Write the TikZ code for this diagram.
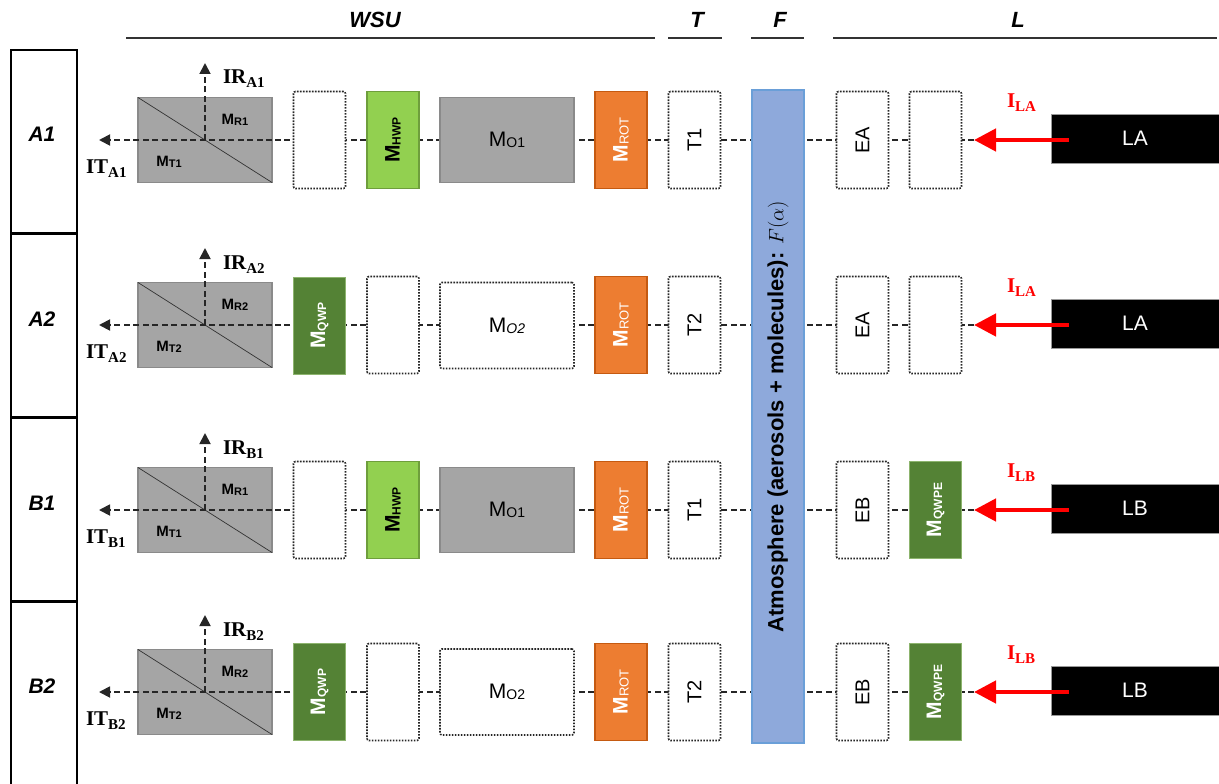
\documentclass[tikz,border=0pt]{standalone}
\usepackage{fontspec}
\setmainfont{Liberation Sans}
\newfontfamily\serifbf{Liberation Serif}
\usetikzlibrary{arrows.meta}
\pgfdeclarelayer{bg}
\pgfsetlayers{bg,main}
\definecolor{bsgray}{HTML}{A5A5A5}
\definecolor{bsedge}{HTML}{8A8A8A}
\definecolor{lgreen}{HTML}{92D050}
\definecolor{lgreenedge}{HTML}{6E9E3C}
\definecolor{dgreen}{HTML}{548235}
\definecolor{dgreenedge}{HTML}{8DB46E}
\definecolor{orng}{HTML}{ED7D31}
\definecolor{orngedge}{HTML}{C55A11}
\definecolor{atmblue}{HTML}{8EA9DB}
\definecolor{atmedge}{HTML}{6A9FD8}
\newcommand\fsz[1]{\fontsize{#1}{#1}\selectfont}
\newcommand\mlab[3][12]{#2{\fsz{#1}\raisebox{-1pt}{#3}}}
\newcommand\slab[2]{#1\raisebox{-4pt}{\fsz{15}#2}}

\newcommand\bsunit[3]{%
  \node[bsplit] (bs#1) at (205,#2) {};
  \draw[diag] (bs#1.north west) -- (bs#1.south east);
  \node[mrt] at (235,#2-20) {\mlab[11]{M}{R#3}};
  \node[mrt] at (169,#2+22) {\mlab[11]{M}{T#3}};
  \coordinate (ir#1) at (205,#2-77);
  \coordinate (it#1) at (99,#2);
  \draw[beamarr] (bs#1.center) -- (ir#1);
  \draw[beamarr] (bs#1.east) -- (it#1);
  \node[slabel, anchor=base west] at (223,#2-56) {\slab{IR}{#1}};
  \node[slabel, anchor=base west] at (86,#2+33) {\slab{IT}{#1}};
}
\newcommand\laserunit[3]{%
  \node[laser] (l#1) at (1135,#2-1.5) {L#3};
  \coordinate (s#1) at (1069,#2);
  \coordinate (p#1) at (974,#2);
  \draw[redarr] (s#1) -- (p#1);
  \node[redlab, anchor=base west] at (1007,#2-33) {\slab{I}{L#3}};
  \begin{pgfonlayer}{bg}\draw[beam] (p#1) -- (bs#1.east);\end{pgfonlayer}
}

\begin{document}
\begin{tikzpicture}[x=1pt,y=-1pt,
  every node/.style={inner sep=0pt, outer sep=0pt},
  colbox/.style={draw=black, line width=1.8pt, minimum width=66pt, minimum height=183pt},
  rowlab/.style={font=\fsz{21}\bfseries\itshape},
  head/.style={font=\fsz{22}\bfseries\itshape},
  headline/.style={line width=1.6pt, draw=black!80},
  small/.style={minimum width=52pt, minimum height=97pt},
  dotbox/.style={small, draw=black!85, line width=1.6pt, dash pattern=on 1.6pt off 1.4pt, fill=white, rounded corners=2pt},
  bigdot/.style={dotbox, minimum width=134pt, minimum height=86pt, font=\fsz{21}},
  bsplit/.style={draw=bsedge, fill=bsgray, line width=1.6pt, minimum width=134pt, minimum height=85pt},
  mobox/.style={bsplit, font=\fsz{21}},
  diag/.style={line width=0.7pt, draw=black!80},
  mrt/.style={font=\fsz{15}\bfseries},
  hwp/.style={small, fill=lgreen, draw=lgreenedge, line width=1.2pt},
  qwp/.style={small, fill=dgreen, draw=dgreenedge, line width=1pt},
  rot/.style={small, fill=orng, draw=orngedge, line width=1.2pt},
  vtext/.style={rotate=90, font=\fsz{20}},
  vbold/.style={rotate=90, font=\fsz{21}\bfseries},
  atm/.style={fill=atmblue, draw=atmedge, line width=1.2pt, minimum width=52pt, minimum height=653pt},
  laser/.style={fill=black, draw=black!40, line width=0.8pt, minimum width=168pt, minimum height=49pt, text=white, font=\fsz{21}},
  beam/.style={line width=1.8pt, dash pattern=on 6pt off 3.5pt, draw=black!85},
  beamarr/.style={beam, -{Triangle[length=11pt,width=11pt]}},
  redarr/.style={line width=4.5pt, draw=red, -{Triangle[length=22pt,width=22pt]}},
  slabel/.style={font=\fsz{21}\serifbf\bfseries},
  redlab/.style={font=\fsz{21}\serifbf\bfseries, text=red},
]
\useasboundingbox (0,0) rectangle (1219,784);

% header
\node[head] (hW) at (375,20) {WSU};
\node[head] (hT) at (697,20) {T};
\node[head] (hF) at (780,20) {F};
\node[head] (hL) at (1018,20) {L};
\draw[headline] (126,38) -- (655,38);
\draw[headline] (668,38) -- (722,38);
\draw[headline] (751,38) -- (804,38);
\draw[headline] (833,38) -- (1217,38);

% left column
\node[colbox] (cA1) at (44,141.5) {};
\node[colbox] (cA2) at (44,325.5) {};
\node[colbox] (cB1) at (44,509.5) {};
\node[colbox, minimum height=200pt] (cB2) at (44,702) {};
\node[rowlab] at (42,134) {A1};
\node[rowlab] at (42,319) {A2};
\node[rowlab] at (42,503) {B1};
\node[rowlab] at (42,686) {B2};

% atmosphere
\node[atm] (atm) at (778,416.5) {};
\node[rotate=90, font=\fsz{22}\bfseries] at (atm) {Atmosphere (aerosols + molecules): $F(\alpha)$};

% ---------- row A1
\bsunit{A1}{140}{1}
\node[dotbox] (dA1) at (319.5,140) {};
\node[hwp] (hA1) at (393,140) {};
\node[vbold] at (hA1) {\mlab{M}{HWP}};
\node[mobox] (oA1) at (507,140) {\mlab[14]{M}{O1}};
\node[rot] (rA1) at (621,140) {};
\node[vbold, text=white] at (rA1) {M{\fsz{13}\mdseries\raisebox{-1pt}{ROT}}};
\node[dotbox] (tA1) at (694.5,140) {};
\node[vtext] at (tA1) {T1};
\node[dotbox] (eA1) at (862.5,140) {};
\node[vtext] at (eA1) {EA};
\node[dotbox] (xA1) at (935.5,140) {};
\laserunit{A1}{140}{A}

% ---------- row A2
\bsunit{A2}{325}{2}
\node[qwp] (qA2) at (319.5,325.5) {};
\node[vbold, text=white] at (qA2) {\mlab{M}{QWP}};
\node[dotbox] (dA2) at (393,325) {};
\node[bigdot] (oA2) at (507,325.5) {M{\fsz{14}\itshape\raisebox{-1pt}{O2}}};
\node[rot] (rA2) at (621,325) {};
\node[vbold, text=white] at (rA2) {M{\fsz{13}\mdseries\raisebox{-1pt}{ROT}}};
\node[dotbox] (tA2) at (694.5,325) {};
\node[vtext] at (tA2) {T2};
\node[dotbox] (eA2) at (862.5,325) {};
\node[vtext] at (eA2) {EA};
\node[dotbox] (xA2) at (935.5,325) {};
\laserunit{A2}{325}{A}

% ---------- row B1
\bsunit{B1}{510}{1}
\node[dotbox] (dB1) at (319.5,510) {};
\node[hwp] (hB1) at (393,510) {};
\node[vbold] at (hB1) {\mlab{M}{HWP}};
\node[mobox] (oB1) at (507,510) {\mlab[14]{M}{O1}};
\node[rot] (rB1) at (621,510) {};
\node[vbold, text=white] at (rB1) {M{\fsz{13}\mdseries\raisebox{-1pt}{ROT}}};
\node[dotbox] (tB1) at (694.5,510) {};
\node[vtext] at (tB1) {T1};
\node[dotbox] (eB1) at (862.5,510) {};
\node[vtext] at (eB1) {EB};
\node[qwp] (qB1) at (935.5,510) {};
\node[vbold, text=white] at (qB1) {\mlab{M}{QWPE}};
\laserunit{B1}{510}{B}

% ---------- row B2
\bsunit{B2}{692}{2}
\node[qwp] (qB2) at (319.5,692) {};
\node[vbold, text=white] at (qB2) {\mlab{M}{QWP}};
\node[dotbox] (dB2) at (393,692) {};
\node[bigdot] (oB2) at (507,692) {M{\fsz{14}\raisebox{-1pt}{O2}}};
\node[rot] (rB2) at (621,692) {};
\node[vbold, text=white] at (rB2) {M{\fsz{13}\mdseries\raisebox{-1pt}{ROT}}};
\node[dotbox] (tB2) at (694.5,692) {};
\node[vtext] at (tB2) {T2};
\node[dotbox] (eB2) at (862.5,692) {};
\node[vtext] at (eB2) {EB};
\node[qwp] (qB2r) at (935.5,692) {};
\node[vbold, text=white] at (qB2r) {\mlab{M}{QWPE}};
\laserunit{B2}{692}{B}
\end{tikzpicture}
\end{document}
